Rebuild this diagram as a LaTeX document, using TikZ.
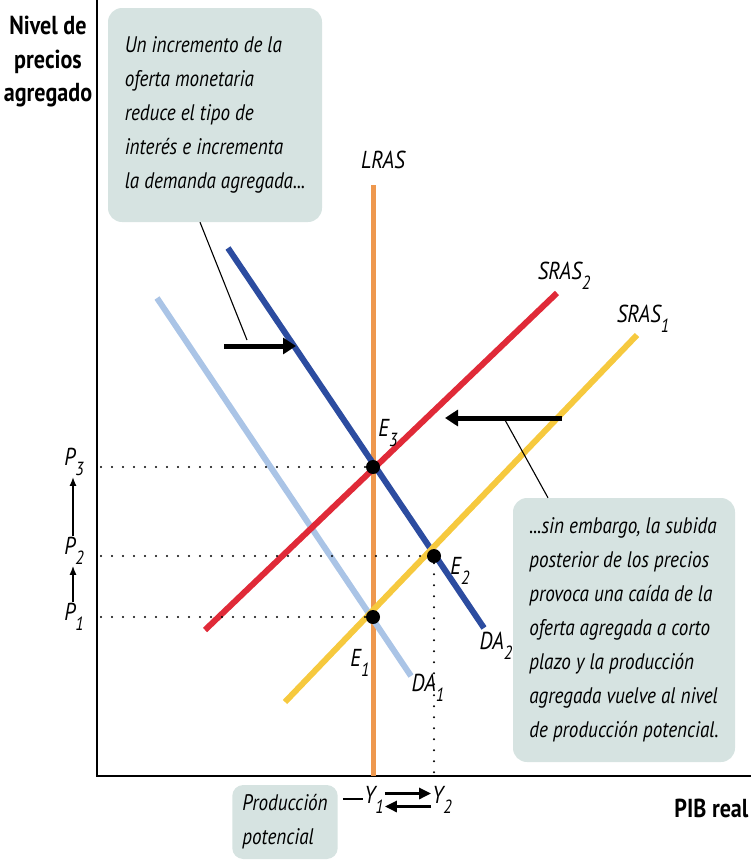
\documentclass[tikz,border=0pt]{standalone}
\usepackage{fontspec}
\setmainfont{PT Sans}[FakeStretch=0.85]
\usepackage{tikz}
\usetikzlibrary{positioning}
\usetikzlibrary{arrows.meta}

\definecolor{cajagris}{RGB}{214,227,225}
\definecolor{naranja}{RGB}{238,152,78}
\definecolor{rojo}{RGB}{224,42,56}
\definecolor{amarillo}{RGB}{246,201,62}
\definecolor{azuloscuro}{RGB}{44,76,160}
\definecolor{azulclaro}{RGB}{170,196,230}

\newcommand{\idx}[2]{#1\raisebox{-0.4em}{\fontsize{19}{19}\selectfont #2}}

\tikzset{
    curva/.style={line width=6pt},
    nota/.style={fill=cajagris, rounded corners=14pt, align=left, inner xsep=14pt,
        font=\itshape\fontsize{22.5}{34}\selectfont},
    eq/.style={circle, fill=black, inner sep=0pt, minimum size=14pt},
    etiq/.style={font=\itshape\fontsize{24.5}{26}\selectfont, inner sep=1pt},
    ejetit/.style={font=\bfseries\fontsize{26}{33.5}\selectfont, align=center},
    punteado/.style={line width=2.3pt, line cap=round, dash pattern=on 0pt off 11pt},
    flecha/.style={line width=5pt, -{Triangle[length=13pt,width=16pt]}},
    guia/.style={line width=1.1pt},
    yflecha/.style={line width=3pt, -{Triangle[length=12pt,width=11pt]}}
}

\begin{document}
\begin{tikzpicture}[x=1pt,y=-1pt]
    \useasboundingbox (0,0) rectangle (751,862);

    % ejes
    \coordinate (O) at (97,776);
    \coordinate (ytop) at (97,0);
    \coordinate (xend) at (751,776);
    \draw[line width=2pt] (ytop) -- (O) -- (xend);
    \node[ejetit] (ylab) at (48,62) {Nivel de\\precios\\agregado};
    \node[ejetit, anchor=east] (xlab) at (752,808) {PIB real};

    % curvas
    \draw[naranja, line width=5pt] (373,185) -- (373,776);
    \node[etiq] (lras) at (383,160) {LRAS};
    \draw[azulclaro, curva] (157,298) -- (411,676);
    \draw[azuloscuro, curva] (228,248) -- (484,628);
    \draw[amarillo, curva] (285,702) -- (637,335);
    \draw[rojo, curva] (205,630) -- (557,293);
    \node[etiq] (sras2) at (564,276) {\idx{SRAS}{2}};
    \node[etiq] (sras1) at (643,319) {\idx{SRAS}{1}};
    \node[etiq] (da2) at (496,646) {\idx{DA}{2}};
    \node[etiq] (da1) at (428,688) {\idx{DA}{1}};

    % equilibrios
    \node[eq] (E3) at (373,467) {};
    \node[eq] (E2) at (434,556) {};
    \node[eq] (E1) at (373,617) {};
    \node[etiq] (e3lab) at (388,433) {\idx{E}{3}};
    \node[etiq] (e2lab) at (460,571) {\idx{E}{2}};
    \node[etiq] (e1lab) at (360,663) {\idx{E}{1}};

    % punteados
    \coordinate (p3eje) at (101,467);
    \coordinate (p2eje) at (101,556);
    \coordinate (p1eje) at (101,617);
    \coordinate (y2eje) at (434,776);
    \draw[punteado] (p3eje) -- (E3);
    \draw[punteado] (p2eje) -- (E2);
    \draw[punteado] (p1eje) -- (E1);
    \draw[punteado] (E2) -- (y2eje);

    % precios
    \node[etiq, anchor=east] (P3) at (85,462) {\idx{P}{3}};
    \node[etiq, anchor=east] (P2) at (85,551) {\idx{P}{2}};
    \node[etiq, anchor=east] (P1) at (85,617) {\idx{P}{1}};
    \draw[line width=1.6pt, -{Latex[length=9pt,width=7pt]}] (P2.north -| 73,0) -- (P3.south -| 73,0);
    \draw[line width=1.6pt, -{Latex[length=9pt,width=7pt]}] (P1.north -| 73,0) -- (P2.south -| 73,0);

    % desplazamientos
    \coordinate (fa1) at (224,346);
    \coordinate (fb1) at (296,346);
    \coordinate (fa2) at (562,418);
    \coordinate (fb2) at (445,418);
    \draw[flecha] (fa1) -- (fb1);
    \draw[flecha] (fa2) -- (fb2);

    % notas
    \node[nota, minimum width=214pt, minimum height=214pt] (nota1) at (215,115)
        {Un incremento de la\\oferta monetaria\\reduce el tipo de\\interés e incrementa\\la demanda agregada...};
    \node[nota, minimum width=222pt, minimum height=264pt] (nota2) at (624,630)
        {...sin embargo, la subida\\posterior de los precios\\provoca una caída de la\\oferta agregada a corto\\plazo y la producción\\agregada vuelve al nivel\\de producción potencial.};
    \node[nota, rounded corners=11pt, inner xsep=10pt, minimum width=100pt, minimum height=74pt] (nota3) at (285,822)
        {Producción\\potencial};
    \coordinate (g1) at (247,340);
    \coordinate (g2) at (505,420);
    \draw[guia] ([xshift=-15pt]nota1.south) -- (g1);
    \draw[guia] (g2) -- ([xshift=-76pt]nota2.north);

    % producción
    \node[etiq] (Y1) at (374,800) {\idx{Y}{1}};
    \node[etiq] (Y2) at (442,800) {\idx{Y}{2}};
    \draw[line width=1.5pt] ([xshift=5pt,yshift=23pt]nota3.east) -- (Y1.west |- 0,799);
    \draw[yflecha] ([yshift=6.5pt]Y1.east) -- ([yshift=6.5pt]Y2.west);
    \draw[yflecha] ([yshift=-6.5pt]Y2.west) -- ([yshift=-6.5pt]Y1.east);
\end{tikzpicture}
\end{document}
